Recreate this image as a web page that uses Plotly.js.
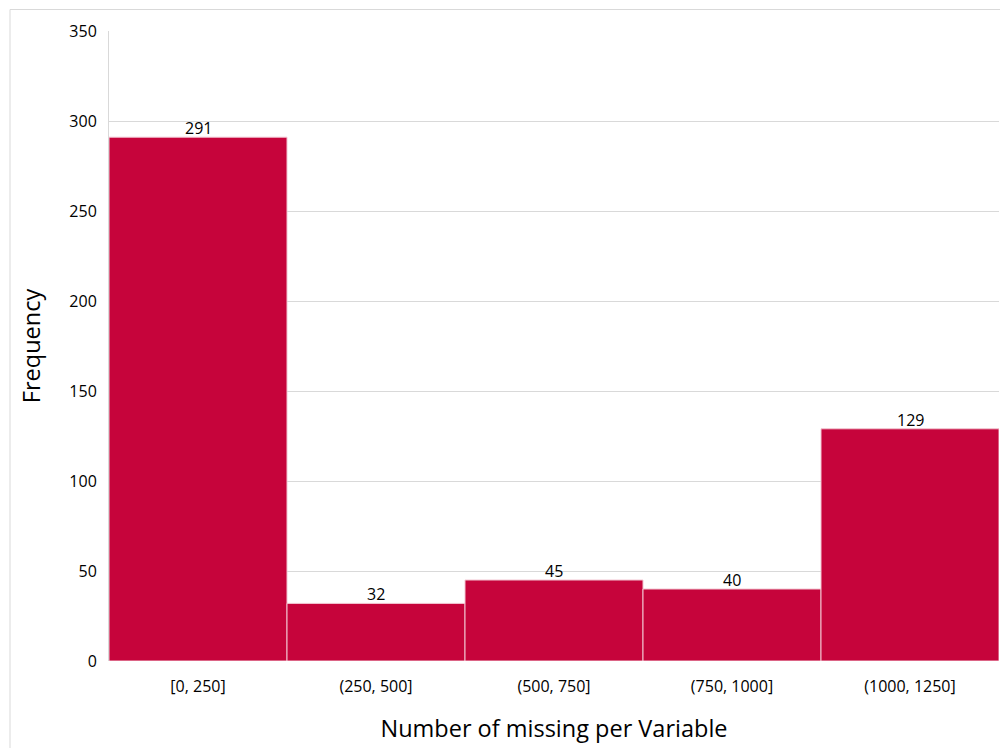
<!DOCTYPE html>
<html>
<head>
<meta charset="utf-8">
<script src="https://cdn.plot.ly/plotly-3.0.1.min.js"></script>
<style>html,body{margin:0;padding:0;background:#fff;}#chart{width:1000px;height:748px;}</style>
</head>
<body>
<div id="chart"></div>
<script>
const categories = ["[0, 250]", "(250, 500]", "(500, 750]", "(750, 1000]", "(1000, 1250]"];
const frequencies = [291, 32, 45, 40, 129];
const yTicks = [0, 50, 100, 150, 200, 250, 300, 350];

const font = "Open Sans, Noto Sans, sans-serif";

const trace = {
  type: "bar",
  x: categories,
  y: frequencies,
  marker: {color: "#C6043B", line: {color: "#F2C6D2", width: 1}},
  hoverinfo: "skip"
};

const labels = categories.map((c, i) => ({
  x: c, y: frequencies[i], xref: "x", yref: "y",
  text: String(frequencies[i]), showarrow: false,
  yanchor: "bottom", yshift: -4,
  font: {family: font, size: 16, color: "#000"}
}));

const layout = {
  width: 1000, height: 748,
  margin: {l: 109, r: 1, t: 31, b: 87},
  paper_bgcolor: "#fff", plot_bgcolor: "#fff",
  bargap: 0,
  showlegend: false,
  font: {family: font, color: "#000"},
  xaxis: {
    type: "category",
    tickfont: {family: font, size: 16, color: "#000"},
    ticks: "outside", ticklen: 11, tickcolor: "rgba(0,0,0,0)",
    showgrid: false, zeroline: false,
    showline: false,
    title: {text: "Number of missing per Variable", font: {family: font, size: 23.5, color: "#000"}, standoff: 24}
  },
  yaxis: {
    range: [0, 350],
    tickvals: yTicks,
    ticktext: yTicks.map(String),
    tickfont: {family: font, size: 16, color: "#000"},
    ticks: "outside", ticklen: 8, tickcolor: "rgba(0,0,0,0)",
    showgrid: true, gridcolor: "#D9D9D9", gridwidth: 1,
    zeroline: false,
    showline: true, linecolor: "#D9D9D9", linewidth: 1,
    title: {text: "Frequency", font: {family: font, size: 23.5, color: "#000"}, standoff: 22}
  },
  annotations: labels,
  shapes: [{
    type: "rect", xref: "paper", yref: "paper",
    x0: (10 - 109) / 890, x1: 1.2, y0: -0.3, y1: (661 - 9.5) / 630,
    line: {color: "#D9D9D9", width: 1}, fillcolor: "rgba(0,0,0,0)", layer: "below"
  }]
};

Plotly.newPlot("chart", [trace], layout, {displayModeBar: false, staticPlot: true});
</script>
</body>
</html>
